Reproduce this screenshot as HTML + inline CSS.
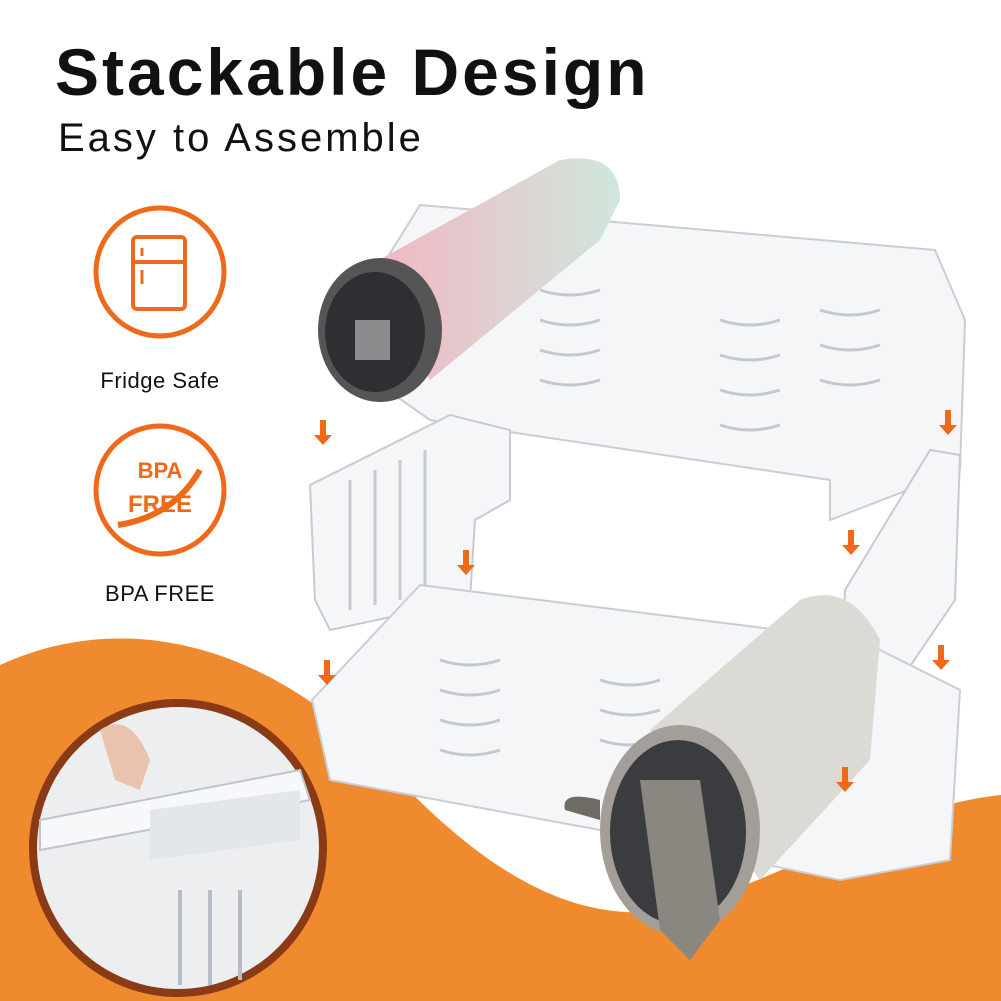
<!DOCTYPE html>
<html><head><meta charset="utf-8"><style>
html,body{margin:0;padding:0;background:#fff;}
body{width:1001px;height:1001px;overflow:hidden;position:relative;font-family:"Liberation Sans",sans-serif;}
.t1{position:absolute;left:55px;top:34px;font-size:66px;font-weight:bold;color:#111;letter-spacing:3px;}
.t2{position:absolute;left:58px;top:116px;font-size:40px;color:#111;letter-spacing:3px;}
.lbl{position:absolute;font-size:22px;color:#111;width:200px;text-align:center;left:60px;letter-spacing:0.5px;}
</style></head><body>
<svg width="1001" height="1001" style="position:absolute;left:0;top:0">
<path d="M0,665 C120,610 260,640 380,760 C480,870 580,935 690,905 C800,870 900,805 1001,795 L1001,1001 L0,1001 Z" fill="#f08a2e"/>
<circle cx="160" cy="272" r="64" fill="none" stroke="#ee6a1a" stroke-width="5"/>
<rect x="133" y="237" width="52" height="72" rx="4" fill="none" stroke="#ee6a1a" stroke-width="4"/>
<line x1="133" y1="262" x2="185" y2="262" stroke="#ee6a1a" stroke-width="4"/>
<line x1="142" y1="248" x2="142" y2="256" stroke="#ee6a1a" stroke-width="3"/>
<line x1="142" y1="270" x2="142" y2="284" stroke="#ee6a1a" stroke-width="3"/>
<circle cx="160" cy="490" r="64" fill="none" stroke="#ee6a1a" stroke-width="5"/>
<text x="160" y="478" text-anchor="middle" font-family="Liberation Sans" font-weight="bold" font-size="22" fill="#ee6a1a">BPA</text>
<text x="160" y="512" text-anchor="middle" font-family="Liberation Sans" font-weight="bold" font-size="24" fill="#ee6a1a">FREE</text>
<path d="M118,525 C150,520 180,505 200,470" stroke="#ee6a1a" stroke-width="6" fill="none"/>
<path d="M420,205 L935,250 L965,320 L960,470 L830,520 L830,480 L430,420 L330,350 Z" fill="#f5f6f8" stroke="#c9ced6" stroke-width="2"/>
<g stroke="#c3c8d0" stroke-width="3" fill="none">
<path d="M540,290 q30,10 60,0"/><path d="M540,320 q30,10 60,0"/><path d="M540,350 q30,10 60,0"/><path d="M540,380 q30,10 60,0"/>
<path d="M720,320 q30,10 60,0"/><path d="M720,355 q30,10 60,0"/><path d="M720,390 q30,10 60,0"/><path d="M720,425 q30,10 60,0"/>
<path d="M820,310 q30,10 60,0"/><path d="M820,345 q30,10 60,0"/><path d="M820,380 q30,10 60,0"/>
</g>
<defs><linearGradient id="bg1" x1="0" y1="0" x2="1" y2="0"><stop offset="0" stop-color="#f2b6c2"/><stop offset="1" stop-color="#cfe7dc"/></linearGradient></defs>
<path d="M370,265 L560,160 Q620,150 620,200 L600,240 L430,380 Z" fill="url(#bg1)"/>
<ellipse cx="380" cy="330" rx="62" ry="72" fill="#555" />
<ellipse cx="375" cy="332" rx="50" ry="60" fill="#2d2f33"/>
<rect x="355" y="320" width="35" height="40" fill="#ccc" opacity="0.6"/>
<path d="M310,485 L450,415 L510,430 L510,500 L475,520 L470,600 L330,630 L315,600 Z" fill="#f5f6f8" stroke="#c6cbd3" stroke-width="2"/>
<g stroke="#c6cbd3" stroke-width="3"><line x1="350" y1="480" x2="350" y2="610"/><line x1="375" y1="470" x2="375" y2="605"/><line x1="400" y1="460" x2="400" y2="600"/><line x1="425" y1="450" x2="425" y2="595"/></g>
<path d="M845,590 L930,450 L960,455 L955,600 L860,740 L840,740 Z" fill="#f5f6f8" stroke="#c6cbd3" stroke-width="2"/>
<path d="M420,585 L860,640 L960,690 L950,860 L840,880 L600,830 L330,780 L312,700 Z" fill="#f5f6f8" stroke="#c9ced6" stroke-width="2"/>
<g stroke="#c3c8d0" stroke-width="3" fill="none">
<path d="M440,660 q30,10 60,0"/><path d="M440,690 q30,10 60,0"/><path d="M440,720 q30,10 60,0"/><path d="M440,750 q30,10 60,0"/>
<path d="M600,680 q30,10 60,0"/><path d="M600,710 q30,10 60,0"/><path d="M600,740 q30,10 60,0"/>
</g>
<path d="M650,730 L800,600 Q850,580 880,640 L870,760 L760,880 Z" fill="#dcdad5"/>
<path d="M600,800 Q560,790 565,810 L600,820 Z" fill="#6f6a64"/>
<ellipse cx="680" cy="830" rx="80" ry="105" fill="#a39f98"/>
<ellipse cx="678" cy="832" rx="68" ry="92" fill="#3a3c40"/>
<path d="M640,780 L700,780 L720,920 L690,960 L660,930 Z" fill="#8a8680"/>
<g fill="#ee6a1a">
<path d="M320,420 h6 v15 h6 l-9,10 l-9,-10 h6z"/>
<path d="M945,410 h6 v15 h6 l-9,10 l-9,-10 h6z"/>
<path d="M463,550 h6 v15 h6 l-9,10 l-9,-10 h6z"/>
<path d="M848,530 h6 v15 h6 l-9,10 l-9,-10 h6z"/>
<path d="M324,660 h6 v15 h6 l-9,10 l-9,-10 h6z"/>
<path d="M938,645 h6 v15 h6 l-9,10 l-9,-10 h6z"/>
<path d="M842,767 h6 v15 h6 l-9,10 l-9,-10 h6z"/>
</g>
<circle cx="178" cy="848" r="145" fill="#eceef0" stroke="#8a3a14" stroke-width="8"/>
<path d="M40,820 L300,770 L310,800 L40,850 Z" fill="#f7f8fa" stroke="#bfc4cc" stroke-width="2"/>
<path d="M150,810 L300,790 L300,840 L150,860 Z" fill="#e3e6ea"/>
<g stroke="#b8bdc5" stroke-width="4"><line x1="180" y1="890" x2="180" y2="985"/><line x1="210" y1="890" x2="210" y2="985"/><line x1="240" y1="890" x2="240" y2="980"/></g>
<path d="M100,730 Q130,710 150,760 L140,790 L115,780 Z" fill="#e9c3ad"/>
</svg>
<div class="t1">Stackable Design</div>
<div class="t2">Easy to Assemble</div>
<div class="lbl" style="top:368px">Fridge Safe</div>
<div class="lbl" style="top:581px">BPA FREE</div>
</body></html>
